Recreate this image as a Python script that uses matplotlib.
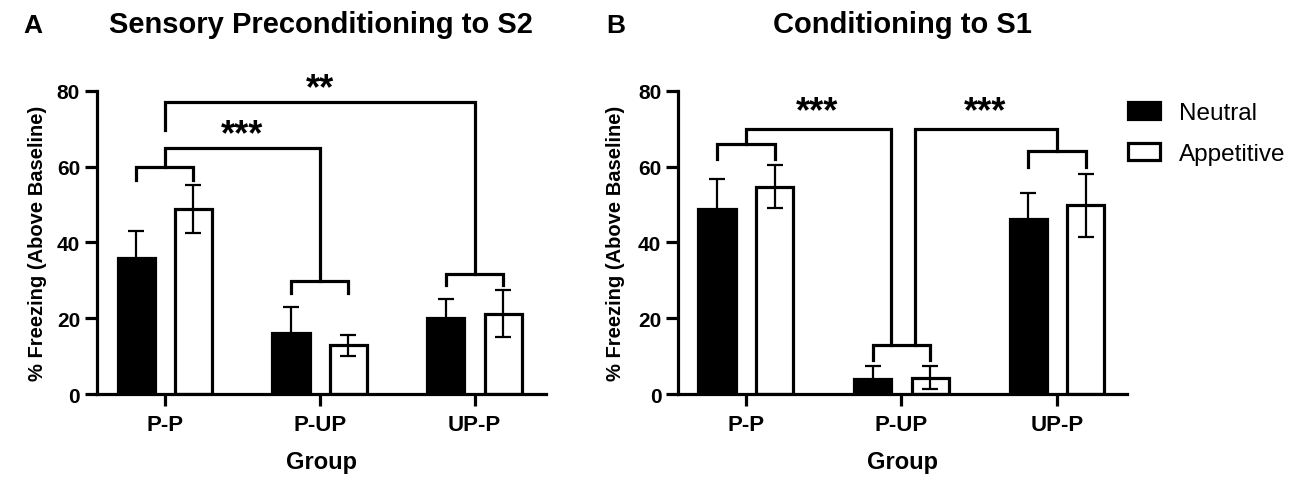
import matplotlib
matplotlib.use("Agg")
import matplotlib.pyplot as plt
import numpy as np

plt.rcParams["font.family"] = ["Liberation Sans", "DejaVu Sans"]

groups = ["P-P", "P-UP", "UP-P"]
series = ["Neutral", "Appetitive"]

a_neutral = [36.0, 16.0, 20.0]
a_neutral_err = [6.9, 7.0, 5.0]
a_appetitive = [48.8, 12.8, 21.2]
a_appetitive_err = [6.4, 2.8, 6.2]

b_neutral = [48.7, 3.9, 46.2]
b_neutral_err = [7.9, 3.5, 6.8]
b_appetitive = [54.7, 4.3, 49.8]
b_appetitive_err = [5.6, 3.0, 8.3]

a_stars = ["***", "**"]
b_stars = ["***", "***"]

fig = plt.figure(figsize=(13, 4.89), dpi=100)
axA = fig.add_axes([0.0744, 0.1922, 0.3454, 0.6203])
axB = fig.add_axes([0.5215, 0.1922, 0.3454, 0.6203])

LW = 2.3
off = 0.185
w = 0.24


def draw_bars(ax, neu, neu_err, app, app_err, xlim):
    x = np.arange(len(groups))
    ax.bar(x - off, neu, w, color="black", edgecolor="black", linewidth=LW,
           label=series[0], zorder=2)
    ax.bar(x + off, app, w, color="white", edgecolor="black", linewidth=LW,
           label=series[1], zorder=2)
    ax.errorbar(x - off, neu, yerr=neu_err, fmt="none", ecolor="black",
                elinewidth=1.6, capsize=5.5, capthick=1.6, zorder=3)
    ax.errorbar(x + off, app, yerr=app_err, fmt="none", ecolor="black",
                elinewidth=1.6, capsize=5.5, capthick=1.6, zorder=3)
    ax.set_xlim(*xlim)
    ax.set_ylim(0, 80)
    ax.set_yticks([0, 20, 40, 60, 80])
    ax.set_xticks(x)
    ax.set_xticklabels(groups, fontsize=16, fontweight="bold")
    for t in ax.get_yticklabels():
        t.set_fontsize(15)
        t.set_fontweight("bold")
    ax.spines["top"].set_visible(False)
    ax.spines["right"].set_visible(False)
    ax.spines["left"].set_linewidth(LW)
    ax.spines["bottom"].set_linewidth(LW)
    ax.tick_params(axis="both", width=LW, length=8.5, direction="out")
    ax.tick_params(axis="x", pad=6)
    ax.tick_params(axis="y", pad=3.5)
    ax.set_xlabel("Group", fontsize=17, fontweight="bold")
    ax.xaxis.set_label_coords(0.5, -0.224)
    ax.xaxis.label.set_verticalalignment("center")
    ax.set_ylabel("% Freezing (Above Baseline)", fontsize=14.5, fontweight="bold")
    ax.yaxis.label.set_verticalalignment("center")


def bracket(ax, x1, x2, y, y1, y2):
    ax.plot([x1, x1, x2, x2], [y1, y, y, y2], color="black", lw=LW,
            solid_joinstyle="miter", clip_on=False, zorder=4)


draw_bars(axA, a_neutral, a_neutral_err, a_appetitive, a_appetitive_err, (-0.44, 2.46))
draw_bars(axB, b_neutral, b_neutral_err, b_appetitive, b_appetitive_err, (-0.437, 2.45))
axA.yaxis.set_label_coords(-0.131, 0.5)
axB.yaxis.set_label_coords(-0.138, 0.5)

# panel A comparisons
bracket(axA, -off, off, 60, 56.5, 56.5)
bracket(axA, 0, 1, 65, 60, 29.8)
bracket(axA, 1 - off, 1 + off, 29.8, 26.7, 26.7)
bracket(axA, 0, 2, 77, 69.6, 31.7)
bracket(axA, 2 - off, 2 + off, 31.7, 28.8, 28.8)
axA.text(0.5, 68.5, a_stars[0], ha="center", va="center", fontsize=26,
         fontweight="bold", clip_on=False)
axA.text(1.0, 80.5, a_stars[1], ha="center", va="center", fontsize=26,
         fontweight="bold", clip_on=False)

# panel B comparisons
bracket(axB, -off, off, 66, 62, 62)
bracket(axB, 0, 1 - 0.065, 70, 66, 13)
bracket(axB, 1 - off, 1 + off, 13, 9, 9)
bracket(axB, 1 + 0.085, 2, 70, 13, 64)
bracket(axB, 2 - off, 2 + off, 64, 59.8, 59.8)
axB.text(0.46, 74.5, b_stars[0], ha="center", va="center", fontsize=26,
         fontweight="bold", clip_on=False)
axB.text(1.54, 74.5, b_stars[1], ha="center", va="center", fontsize=26,
         fontweight="bold", clip_on=False)

axB.legend(loc="upper left", bbox_to_anchor=(0.868, 0.79),
           bbox_transform=fig.transFigure, frameon=False, borderpad=0,
           borderaxespad=0, fontsize=17.5, handlelength=1.28, handleheight=0.7,
           labelspacing=0.8, handletextpad=0.8)

fig.text(0.0177, 0.9325, "A", fontsize=19, fontweight="bold", va="baseline")
fig.text(0.466, 0.9325, "B", fontsize=19, fontweight="bold", va="baseline")
fig.text(0.2472, 0.9325, "Sensory Preconditioning to S2", fontsize=21,
         fontweight="bold", ha="center", va="baseline")
fig.text(0.694, 0.9325, "Conditioning to S1", fontsize=21,
         fontweight="bold", ha="center", va="baseline")

fig.savefig("out.png", dpi=100)
